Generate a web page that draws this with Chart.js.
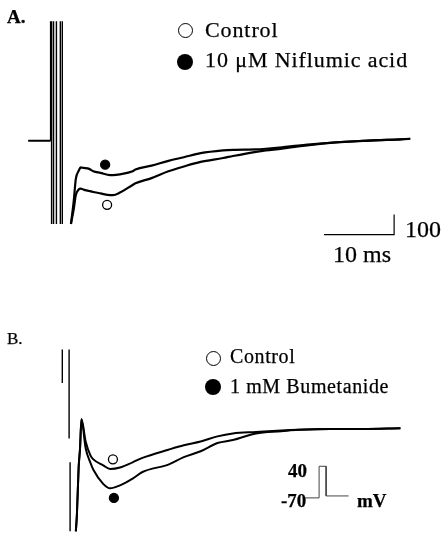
<!DOCTYPE html>
<html>
<head>
<meta charset="utf-8">
<script src="https://cdn.jsdelivr.net/npm/chart.js@4"></script>
<style>
    body { margin: 0; background: #fff; }
    #wrap { position: relative; width: 441px; height: 541px; overflow: hidden; font-family: "Liberation Serif", "DejaVu Serif", serif; color: #000; }
    canvas { position: absolute; left: 0; }
    .lbl { position: absolute; line-height: 1; white-space: nowrap; -webkit-text-stroke: 0.25px #000; }
    .dot { position: absolute; border-radius: 50%; box-sizing: border-box; }
    .open { border: 1.8px solid #000; background: #fff; }
    .full { background: #000; }
</style>
</head>
<body>
<div id="wrap">
    <canvas id="painel-a" width="441" height="270" style="top:0"></canvas>
    <canvas id="painel-b" width="441" height="271" style="top:270px"></canvas>

    <div class="lbl" style="left:7px;top:7px;font-size:19px;font-weight:bold">A.</div>
    <div class="dot open" style="left:178px;top:23px;width:15px;height:15px"></div>
    <div class="lbl" style="left:205px;top:18.6px;font-size:22px;letter-spacing:0.9px">Control</div>
    <div class="dot full" style="left:177px;top:54px;width:16px;height:16px"></div>
    <div class="lbl" style="left:205px;top:48.6px;font-size:22px;letter-spacing:0.9px">10 μM Niflumic acid</div>
    <div class="lbl" style="left:405px;top:217px;font-size:24px">100</div>
    <div class="lbl" style="left:333px;top:242px;font-size:24px">10 ms</div>

    <div class="lbl" style="left:7px;top:330px;font-size:17px">B.</div>
    <div class="dot open" style="left:206px;top:351px;width:15px;height:15px"></div>
    <div class="lbl" style="left:230px;top:346px;font-size:20px;letter-spacing:0.6px">Control</div>
    <div class="dot full" style="left:205px;top:379px;width:16px;height:16px"></div>
    <div class="lbl" style="left:230px;top:376px;font-size:20px;letter-spacing:0.6px">1 mM Bumetanide</div>
    <div class="lbl" style="left:288px;top:461px;font-size:19px;font-weight:bold">40</div>
    <div class="lbl" style="left:281px;top:491px;font-size:19px;font-weight:bold">-70</div>
    <div class="lbl" style="left:357px;top:491px;font-size:19px;font-weight:bold">mV</div>
</div>

<script>
// --- DADOS: PAINEL A (tempo em ms, resposta relativa à linha de base) ---
const tempoBaseA = [-3.2, 0];
const valorBaseA = [0, 0];
const artefatoTempoA = [0, 0.14, 0.42, 0.83, 1.39, 1.67];
const artefatoTopoA = [595, 595, 595, 595, 595, 595];
const artefatoFundoA = [0, -414, -414, -414, -414, -414];

const tempoA = [2.9, 3.3, 3.6, 4.0, 4.3, 4.7, 5.5, 6.1, 7.1, 8.5, 8.9, 9.9, 11.7, 12.1, 14.4, 16.8,
    19.0, 21.4, 24.6, 26.0, 29.3, 30.7, 33.0, 35.3, 37.5, 39.9, 42.0, 44.6, 47.0, 49.0, 51.3];
const controleA = [-414, -340, -270, -243, -238, -243, -250, -255, -262, -271, -271, -258, -220, -212, -186, -152,
    -128, -105, -86, -76, -55, -48, -40, -28, -19, -11, -6, -1, 3, 5, 10];
const niflumicoA = [-414, -300, -190, -150, -133, -135, -140, -152, -160, -171, -171, -167, -152, -143, -124, -100,
    -82, -62, -48, -45, -43, -40, -33, -24, -17, -10, -5, 0, 3, 6, 10];

const marcadorTempoA = [7.78, 8.06];
const marcadorValorA = [-119, -319];   // cheio, vazio

// barra de escala: 10 ms x 100
const escalaTempoA = [39.0, 49.0, 49.0];
const escalaValorA = [-467, -467, -367];

// --- DADOS: PAINEL B (tempo em ms, mV relativos ao repouso) ---
const artefatoTempoB = [1.67, 2.64, 2.78];
const artefatoTopoB = [107, 107, -45];
const artefatoFundoB = [62, -13, -138];

const tempoB = [3.6, 3.75, 4.0, 4.2, 4.4, 5.0, 5.7, 6.1, 7.5, 8.5, 9.9, 11.7, 13.1, 16.8, 19.0,
    21.4, 23.8, 26.0, 29.3, 32.9, 35.3, 39.9, 44.6, 49.9];
const controleB = [-138, -116, -52, -26, 13, -17, -36, -41, -49, -54, -52, -45, -39, -28, -22,
    -17, -10, -6, -4, -2, -1, 0, 0, 1];
const bumetanidaB = [-138, -116, -52, -26, 13, -26, -46, -55, -74, -80, -76, -67, -58, -48, -38,
    -30, -19, -15, -6, -3, -1, 0, 0, 1];

const marcadorTempoB = [8.89, 9.03];
const marcadorValorB = [-41, -93];    // vazio, cheio

// barra de escala: colchete de 40 mV
const escalaTempoB = [36.4, 38.3, 38.3, 39.3, 39.3, 42.5];
const escalaValorB = [-92.9, -92.9, -50.3, -50.3, -90.3, -90.3];

// --- FUNÇÕES UTILITÁRIAS ---
function pontos(xs, ys) {
    return xs.map((x, i) => ({ x: x, y: ys[i] }));
}

function segmentos(xs, topo, fundo) {
    const out = [];
    xs.forEach((x, i) => {
        out.push({ x: x, y: topo[i] }, { x: x, y: fundo[i] }, { x: x, y: null });
    });
    return out;
}

function linha(data, largura, extra = {}) {
    return {
        data: data,
        borderColor: '#000',
        borderWidth: largura,
        pointRadius: 0,
        fill: false,
        spanGaps: false,
        ...extra
    };
}

function marcadores(xs, ys, cores) {
    return {
        data: pontos(xs, ys),
        showLine: false,
        pointRadius: 4.5,
        pointBorderWidth: 1.3,
        pointBorderColor: '#000',
        pointBackgroundColor: cores
    };
}

function criarPainel(canvasId, datasets, yMin, yMax) {
    const ctx = document.getElementById(canvasId).getContext('2d');
    return new Chart(ctx, {
        type: 'line',
        data: { datasets: datasets },
        options: {
            responsive: false,
            animation: false,
            layout: { padding: 0 },
            plugins: { legend: { display: false }, tooltip: { enabled: false } },
            scales: {
                x: { type: 'linear', display: false, min: -6.39, max: 54.86 },
                y: { type: 'linear', display: false, min: yMin, max: yMax }
            }
        }
    });
}

// --- PAINEL A ---
criarPainel('painel-a', [
    linha(pontos(tempoBaseA, valorBaseA), 2),
    linha(segmentos(artefatoTempoA, artefatoTopoA, artefatoFundoA), 1.4),
    linha(pontos(tempoA, controleA), 2.2, { cubicInterpolationMode: 'monotone' }),
    linha(pontos(tempoA, niflumicoA), 2.2, { cubicInterpolationMode: 'monotone' }),
    linha(pontos(escalaTempoA, escalaValorA), 1.2),
    marcadores(marcadorTempoA, marcadorValorA, ['#000', '#fff'])
], -614.3, 671.4);

// --- PAINEL B ---
criarPainel('painel-b', [
    linha(segmentos(artefatoTempoB, artefatoTopoB, artefatoFundoB), 1.4),
    linha(pontos(tempoB, controleB), 2, { cubicInterpolationMode: 'monotone' }),
    linha(pontos(tempoB, bumetanidaB), 2, { cubicInterpolationMode: 'monotone' }),
    linha(pontos(escalaTempoB, escalaValorB), 1, { borderColor: '#444' }),
    marcadores(marcadorTempoB, marcadorValorB, ['#fff', '#000'])
], -143.2, 206.4);
</script>
</body>
</html>
